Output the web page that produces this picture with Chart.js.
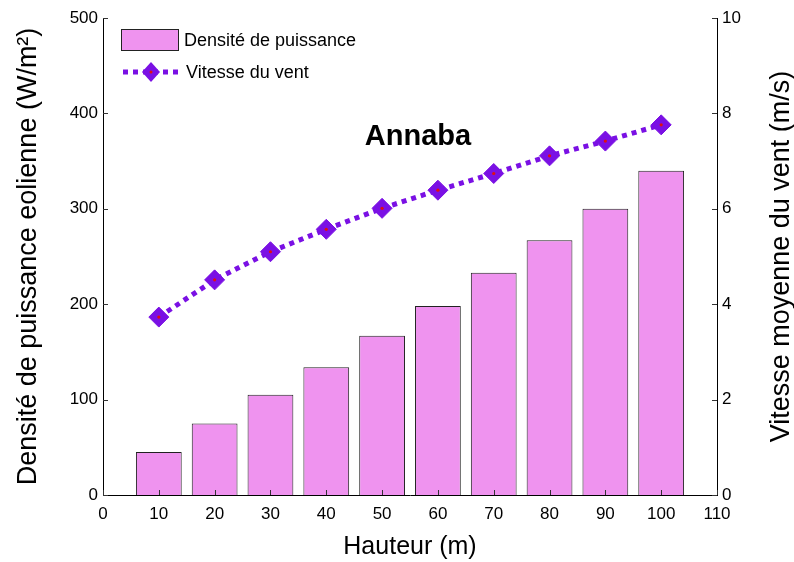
<!DOCTYPE html>
<html>
<head>
<meta charset="utf-8">
<title>Annaba</title>
<script src="https://cdn.jsdelivr.net/npm/chart.js"></script>
<style>
  html, body { margin: 0; padding: 0; background: #fff; }
  #wrap { width: 794px; height: 562px; }
</style>
</head>
<body>
<div id="wrap"><canvas id="chart" width="794" height="562"></canvas></div>
<script>
// Hauteur (m), densité de puissance (W/m²) et vitesse moyenne (m/s)
const hauteurs = [10, 20, 30, 40, 50, 60, 70, 80, 90, 100];
const densite = [45, 75, 105, 134, 167, 198, 233, 267, 300, 340];
const vitesse = [3.73, 4.51, 5.10, 5.57, 6.01, 6.39, 6.74, 7.11, 7.42, 7.76];
const ticksX = [0, 10, 20, 30, 40, 50, 60, 70, 80, 90, 100, 110];
const ticksDensite = [0, 100, 200, 300, 400, 500];
const ticksVitesse = [0, 2, 4, 6, 8, 10];

const FONT = 'Arial, "Liberation Sans", Helvetica, sans-serif';
const VIOLET = '#7a10e4';
const ROSE = '#ef93ef';

const pts = (ys) => hauteurs.map((h, i) => ({ x: h, y: ys[i] }));

// Petites graduations tournées vers l'intérieur du cadre
const inwardTicks = {
    id: 'inwardTicks',
    afterDatasetsDraw(chart) {
        const { ctx, scales } = chart;
        const len = 5;
        ctx.save();
        ctx.strokeStyle = '#333';
        ctx.lineWidth = 1;
        ctx.beginPath();
        scales.x.ticks.forEach(t => {
            const px = Math.round(scales.x.getPixelForValue(t.value)) + 0.5;
            ctx.moveTo(px, scales.x.top);
            ctx.lineTo(px, scales.x.top - len);
        });
        scales.y.ticks.forEach(t => {
            const py = Math.round(scales.y.getPixelForValue(t.value)) + 0.5;
            ctx.moveTo(scales.y.right, py);
            ctx.lineTo(scales.y.right + len, py);
        });
        scales.y1.ticks.forEach(t => {
            const py = Math.round(scales.y1.getPixelForValue(t.value)) + 0.5;
            ctx.moveTo(scales.y1.left, py);
            ctx.lineTo(scales.y1.left - len, py);
        });
        ctx.stroke();
        ctx.restore();
    }
};

// Titre de l'axe droit (lu de bas en haut), nom du site et légende
const annotations = {
    id: 'annotations',
    afterDraw(chart) {
        const { ctx, chartArea, scales } = chart;
        ctx.save();
        ctx.fillStyle = '#000';
        ctx.textBaseline = 'middle';

        // axe droit
        ctx.save();
        ctx.translate(782, (scales.y1.top + scales.y1.bottom) / 2);
        ctx.rotate(-Math.PI / 2);
        ctx.textAlign = 'center';
        ctx.font = '27px ' + FONT;
        ctx.fillText('Vitesse moyenne du vent (m/s)', 0, 0);
        ctx.restore();

        // nom du site
        ctx.textAlign = 'center';
        ctx.font = 'bold 29px ' + FONT;
        ctx.fillText('Annaba', 418, 137);

        // légende
        const lx = chartArea.left + 18;
        const bar = chart.data.datasets[0];
        const line = chart.data.datasets[1];
        ctx.fillStyle = bar.backgroundColor;
        ctx.fillRect(lx, 29, 57, 21);
        ctx.strokeStyle = '#222';
        ctx.lineWidth = 1;
        ctx.strokeRect(lx + 0.5, 29.5, 57, 21);

        ctx.strokeStyle = line.borderColor;
        ctx.lineWidth = line.borderWidth;
        ctx.setLineDash(line.borderDash);
        ctx.beginPath();
        ctx.moveTo(lx + 2, 72);
        ctx.lineTo(lx + 57, 72);
        ctx.stroke();
        ctx.setLineDash([]);
        const cx = lx + 30;
        ctx.fillStyle = line.pointBackgroundColor;
        ctx.beginPath();
        ctx.moveTo(cx, 72 - 10);
        ctx.lineTo(cx + 9, 72);
        ctx.lineTo(cx, 72 + 10);
        ctx.lineTo(cx - 9, 72);
        ctx.closePath();
        ctx.fill();
        ctx.fillStyle = '#e01010';
        ctx.beginPath();
        ctx.arc(cx, 72, 1.5, 0, Math.PI * 2);
        ctx.fill();

        ctx.fillStyle = '#000';
        ctx.textAlign = 'left';
        ctx.font = '18px ' + FONT;
        ctx.fillText('Densité de puissance', lx + 63, 41);
        ctx.fillText('Vitesse du vent', lx + 65, 73);
        ctx.restore();
    }
};

const ctx = document.getElementById('chart').getContext('2d');
new Chart(ctx, {
    type: 'bar',
    data: {
        datasets: [{
            type: 'bar',
            label: 'Densité de puissance',
            data: pts(densite),
            yAxisID: 'y',
            backgroundColor: ROSE,
            borderColor: '#222',
            borderWidth: 1,
            barPercentage: 0.82,
            categoryPercentage: 1,
            order: 2
        }, {
            type: 'line',
            label: 'Vitesse du vent',
            data: pts(vitesse),
            yAxisID: 'y1',
            borderColor: VIOLET,
            borderWidth: 5,
            borderDash: [5, 5],
            borderCapStyle: 'butt',
            pointStyle: 'rectRot',
            pointRadius: 10,
            pointBackgroundColor: VIOLET,
            pointBorderColor: VIOLET,
            pointBorderWidth: 1,
            tension: 0,
            order: 1
        }, {
            // point rouge au centre de chaque losange
            type: 'line',
            label: 'centre',
            data: pts(vitesse),
            yAxisID: 'y1',
            showLine: false,
            pointRadius: 1.6,
            pointBackgroundColor: '#e01010',
            pointBorderWidth: 0,
            order: 0
        }]
    },
    options: {
        responsive: false,
        animation: false,
        layout: { padding: { top: 18, left: 0, right: 0, bottom: 0 } },
        plugins: {
            legend: { display: false },
            tooltip: { enabled: false }
        },
        scales: {
            x: {
                type: 'linear',
                min: 0,
                max: 110,
                offset: false,
                afterBuildTicks: (s) => { s.ticks = ticksX.map(v => ({ value: v })); },
                afterFit: (s) => { s.height = 67; },
                grid: { display: false, offset: false },
                border: { display: true, color: '#000', width: 1 },
                ticks: { color: '#000', padding: 1, font: { family: FONT, size: 17 }, maxRotation: 0 },
                title: {
                    display: true,
                    text: 'Hauteur (m)',
                    color: '#000',
                    font: { family: FONT, size: 25 },
                    padding: { top: 4, bottom: 0 }
                }
            },
            y: {
                position: 'left',
                min: 0,
                max: 500,
                afterBuildTicks: (s) => { s.ticks = ticksDensite.map(v => ({ value: v })); },
                afterFit: (s) => { s.width = 103; },
                grid: { display: false },
                border: { display: true, color: '#000', width: 1 },
                ticks: { color: '#000', padding: -3, font: { family: FONT, size: 17 } },
                title: {
                    display: true,
                    text: 'Densité de puissance eolienne (W/m²)',
                    color: '#000',
                    font: { family: FONT, size: 27 },
                    padding: { top: 12, bottom: 0 }
                }
            },
            y1: {
                position: 'right',
                min: 0,
                max: 10,
                afterBuildTicks: (s) => { s.ticks = ticksVitesse.map(v => ({ value: v })); },
                afterFit: (s) => { s.width = 77; },
                grid: { display: false },
                border: { display: true, color: '#000', width: 1 },
                ticks: { color: '#000', padding: -3, font: { family: FONT, size: 17 } }
            }
        }
    },
    plugins: [inwardTicks, annotations]
});
</script>
</body>
</html>
